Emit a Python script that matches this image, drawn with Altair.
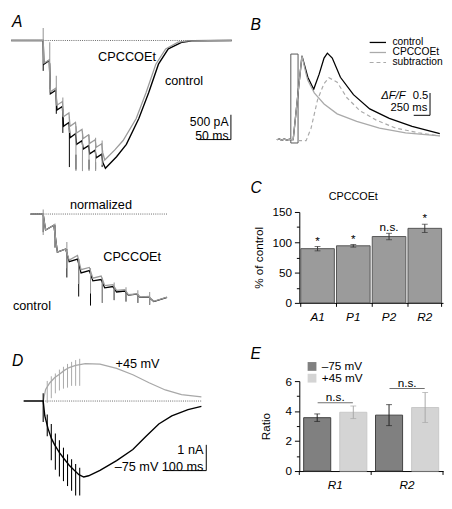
import altair as alt
import pandas as pd

FONT = "Liberation Sans"

# ---------------- data ----------------
PULSE_T = [0, 10, 20, 30, 40, 50, 60, 70, 80, 90]  # ms, 100 Hz train

# Panel A: EPSC (pA) vs time (ms), control and CPCCOEt
A_ctl_t = [-49, 0, 1, 9.3, 11, 19.3, 21, 29.3, 31, 39.3, 41, 49.3, 51, 59.3, 61, 69.3,
           71, 79.3, 81, 89.3, 91, 95, 112, 127, 146, 161, 176, 191, 212, 227, 288]
A_ctl_pA = [0, 0, -477, -400, -1073, -1000, -1400, -1330, -1727, -1650, -1958, -1880,
            -2092, -2020, -2188, -2120, -2285, -2210, -2362, -2290, -2458, -2573,
            -2342, -2092, -1573, -1054, -477, -169, -35, -6, 0]
A_cpc_t = [-49, 0, 1, 9.3, 11, 19.3, 21, 29.3, 31, 39.3, 41, 49.3, 51, 59.3, 61, 69.3,
           71, 79.3, 81, 89.3, 91, 94, 109, 122, 142, 157, 172, 187, 206, 221, 288]
A_cpc_pA = [0, 0, -458, -390, -1035, -960, -1304, -1230, -1535, -1460, -1727, -1650,
            -1862, -1790, -1977, -1900, -2073, -2000, -2150, -2080, -2265, -2408,
            -2208, -2015, -1573, -1054, -477, -169, -35, -6, 0]
A_ctl_art_top = [0, -458, -1092, -1381, -1765, -2300, -2350, -2400, -2450, -2500]
A_ctl_art_bot = [-612, -977, -1477, -1862, -2550, -2600, -2600, -2600, -2600, -2550]
A_cpc_art_top = [254, -35, -708, -1150, -1535, -1727, -1823, -1900, -1958, -2015]
A_cpc_art_bot = [-458, -1035, -1304, -1535, -1862, -2631, -2631, -2631, -2631, -2496]
A_bar_pA = 500
A_bar_ms = 50

# Panel A (normalized)
N_t = [-10.7, 0, 2, 9, 12, 19, 22, 29, 32, 39, 42, 49, 52, 59, 62, 69, 72, 79, 82, 89, 93.5, 104.7]
N_ctl = [0, 0, -0.176, -0.123, -0.421, -0.386, -0.526, -0.498, -0.649, -0.624, -0.737, -0.723,
         -0.814, -0.800, -0.860, -0.849, -0.895, -0.884, -0.919, -0.913, -0.965, -0.919]
N_cpc = [0, 0, -0.176, -0.123, -0.421, -0.386, -0.509, -0.456, -0.614, -0.589, -0.708, -0.684,
         -0.789, -0.779, -0.842, -0.835, -0.890, -0.880, -0.917, -0.910, -0.963, -0.917]
N_ctl_art_top = [0, -0.123, -0.386, -0.498, -0.624, -0.723, -0.800, -0.849, -0.884, -0.913]
N_ctl_art_bot = [-0.20, -0.37, -0.70, -0.91, -1.01, -0.98, -0.95, -0.965, -0.98, -1.0]
N_cpc_art_top = [0.05, -0.105, -0.308, -0.492, -0.597, -0.702, -0.755, -0.807, -0.842, -0.860]
N_cpc_art_bot = [-0.23, -0.368, -0.597, -0.772, -0.877, -0.982, -0.947, -0.965, -0.982, -1.0]

# Panel D: currents (nA) at -75 and +45 mV
D_ctl_t = [-48.2, 0, 4, 12, 20, 28, 40, 52, 64, 76, 88, 100, 112, 140, 181, 221, 253, 285, 317, 357, 390]
D_ctl_nA = [0, 0, -0.58, -1.07, -1.44, -1.69, -2.0, -2.25, -2.49, -2.68, -2.86, -2.95, -2.90,
            -2.69, -2.31, -1.88, -1.38, -0.89, -0.58, -0.33, -0.21]
D_pos_t = [0, 6, 16, 28, 40, 52, 64, 80, 104, 140, 181, 221, 261, 301, 341, 390]
D_pos_nA = [0, 0.45, 0.70, 0.90, 1.04, 1.19, 1.30, 1.38, 1.45, 1.43, 1.27, 1.02, 0.71, 0.43, 0.25, 0.16]
D_neg_art_top = [0.30, -0.52, -0.89, -1.26, -1.52, -1.81, -2.07, -2.26, -2.44, -2.59]
D_neg_art_bot = [-0.81, -1.37, -2.30, -2.67, -2.93, -3.11, -3.30, -3.48, -3.67, -3.67]
D_pos_art_t = [10, 20, 30, 40, 50, 60, 70, 80, 90]
D_pos_art_top = [0.78, 0.96, 1.07, 1.22, 1.33, 1.44, 1.52, 1.59, 1.64]
D_pos_art_bot = [-0.07, 0.11, 0.30, 0.41, 0.48, 0.52, 0.59, 0.59, 0.59]
D_bar_nA = 1
D_bar_ms = 100

# Panel B: Ca2+ signals (dF/F) vs time (ms)
B_ctl_t = [-215, -175, -140, -100, -60, -20, 0, 36, 104, 171, 186, 261, 351, 435, 510, 561,
           636, 761, 961, 1211, 1511, 1861, 2286]
B_ctl = [0, 0.02, -0.01, 0.015, -0.01, 0.01, 0, 0, 0.95, 1.88, 1.80, 1.40, 1.13, 1.47, 1.83,
         1.94, 1.83, 1.40, 1.01, 0.69, 0.48, 0.30, 0.135]
B_cpc_t = [-215, -175, -140, -100, -60, -20, 0, 36, 104, 171, 235, 261, 360, 510, 711, 1011,
           1360, 1761, 2286]
B_cpc = [0, 0.02, -0.01, 0.015, -0.01, 0.01, 0, 0, 0.95, 1.88, 1.47, 1.33, 1.05, 0.80, 0.58,
         0.41, 0.26, 0.156, 0.085]
B_sub_t = [111, 235, 311, 411, 510, 585, 711, 861, 1061, 1311, 1611, 1961, 2286]
B_sub = [-0.02, -0.02, 0.26, 0.90, 1.26, 1.39, 1.29, 0.94, 0.65, 0.44, 0.26, 0.156, 0.085]
B_stim_ms = [0, 111]
B_stim_range = [-0.073, 1.92]
B_series = ["control", "CPCCOEt", "subtraction"]
B_bar_dff = 0.5
B_bar_ms = 250

# Panel C: % of control
C_cond = ["A1", "P1", "P2", "R2"]
C_pct = [89.5, 94.2, 109.5, 123.0]
C_sem = [3.6, 2.2, 5.3, 6.8]
C_sig = ["*", "*", "n.s.", "*"]

# Panel E: ratio
E_groups = ["R1", "R2"]
E_volts = ["\u201375 mV", "+45 mV"]
E_m75 = [3.56, 3.73]
E_m75_err = [0.25, 0.70]
E_p45 = [3.92, 4.24]
E_p45_err = [0.42, 1.00]
E_ns_level = [4.55, 5.50]

# ---------------- helpers ----------------
def S(dom):
    return alt.Scale(domain=dom, nice=False, zero=False)


def trace(t, v, xd, yd, color, width=1.2, dash=None):
    df = pd.DataFrame({"t": t, "v": v})
    kw = {"color": color, "strokeWidth": width}
    if dash is not None:
        kw["strokeDash"] = dash
    return alt.Chart(df).mark_line(**kw).encode(
        x=alt.X("t:Q", scale=S(xd), axis=None),
        y=alt.Y("v:Q", scale=S(yd), axis=None),
    )


def spikes(t, top, bot, xd, yd, color, width=1.0):
    df = pd.DataFrame({"t": t, "top": top, "bot": bot})
    return alt.Chart(df).mark_rule(color=color, strokeWidth=width).encode(
        x=alt.X("t:Q", scale=S(xd), axis=None),
        y=alt.Y("top:Q", scale=S(yd), axis=None),
        y2="bot:Q",
    )


def hseg(x1, x2, y, xd, yd, color="black", width=1.0, dash=None):
    df = pd.DataFrame({"x1": [x1], "x2": [x2], "y": [y]})
    kw = {"color": color, "strokeWidth": width}
    if dash is not None:
        kw["strokeDash"] = dash
    return alt.Chart(df).mark_rule(**kw).encode(
        x=alt.X("x1:Q", scale=S(xd), axis=None), x2="x2:Q",
        y=alt.Y("y:Q", scale=S(yd), axis=None),
    )


def vseg(x, y1, y2, xd, yd, color="black", width=1.0):
    df = pd.DataFrame({"x": [x], "y1": [y1], "y2": [y2]})
    return alt.Chart(df).mark_rule(color=color, strokeWidth=width).encode(
        x=alt.X("x:Q", scale=S(xd), axis=None),
        y=alt.Y("y1:Q", scale=S(yd), axis=None), y2="y2:Q",
    )


def label(x, y, s, xd, yd, size=13, align="center", style="normal", baseline="middle"):
    df = pd.DataFrame({"x": [x], "y": [y], "s": [s]})
    return alt.Chart(df).mark_text(
        align=align, baseline=baseline, fontSize=size, fontStyle=style,
        font=FONT, color="black",
    ).encode(
        x=alt.X("x:Q", scale=S(xd), axis=None),
        y=alt.Y("y:Q", scale=S(yd), axis=None),
        text="s:N",
    )


GREY = "#9a9a9a"
DOT = [1, 1.2]

# ---------------- Panel A ----------------
Ax, Ay = [-49.25, 288.06], [-2765.4, 523.1]
pA = alt.layer(
    hseg(-49, 279, 0, Ax, Ay, color="#666", dash=DOT),
    trace(A_ctl_t, A_ctl_pA, Ax, Ay, "black", 1.4),
    spikes(PULSE_T, A_ctl_art_top, A_ctl_art_bot, Ax, Ay, "black", 1.0),
    trace(A_cpc_t, A_cpc_pA, Ax, Ay, GREY, 1.3),
    spikes(PULSE_T, A_cpc_art_top, A_cpc_art_bot, Ax, Ay, GREY, 1.1),
    label(-47.8, 369, "A", Ax, Ay, size=16, align="left", style="italic"),
    label(128, -325, "CPCCOEt", Ax, Ay),
    label(215, -817, "control", Ax, Ay),
    vseg(286.6, -1496, -1496 - A_bar_pA, Ax, Ay),
    hseg(286.6 - A_bar_ms, 286.6, -1496 - A_bar_pA, Ax, Ay),
    label(283, -1650, f"{A_bar_pA} pA", Ax, Ay, size=12.5, align="right"),
    label(283, -1925, f"{A_bar_ms} ms", Ax, Ay, size=12.5, align="right"),
).properties(width=226, height=167)

# ---------------- Panel A normalized ----------------
Nx, Ny = [-27.27, 159.5], [-1.347, 0.4]
pN = alt.layer(
    hseg(-10.7, 105, 0, Nx, Ny, color="#666", dash=DOT),
    trace(N_t, N_ctl, Nx, Ny, "black", 1.3),
    spikes(PULSE_T, N_ctl_art_top, N_ctl_art_bot, Nx, Ny, "black", 1.0),
    trace(N_t, N_cpc, Nx, Ny, GREY, 1.3),
    spikes(PULSE_T, N_cpc_art_top, N_cpc_art_bot, Nx, Ny, GREY, 1.1),
    label(48.8, 0.095, "normalized", Nx, Ny),
    label(75.2, -0.474, "CPCCOEt", Nx, Ny),
    label(-25.6, -1.02, "control", Nx, Ny, align="left"),
).properties(width=226, height=162)

# ---------------- Panel D ----------------
Dx, Dy = [-79.5, 465.1], [-3.704, 2.519]
pD = alt.layer(
    hseg(0, 390, 0, Dx, Dy, color="#666", dash=DOT),
    trace(D_pos_t, D_pos_nA, Dx, Dy, "#a8a8a8", 1.3),
    spikes(D_pos_art_t, D_pos_art_top, D_pos_art_bot, Dx, Dy, "#a8a8a8", 1.0),
    trace(D_ctl_t, D_ctl_nA, Dx, Dy, "black", 1.4),
    spikes(PULSE_T, D_neg_art_top, D_neg_art_bot, Dx, Dy, "black", 1.1),
    label(-77.1, 1.556, "D", Dx, Dy, size=16, align="left", style="italic"),
    label(232.5, 1.44, "+45 mV", Dx, Dy),
    label(284, -2.574, "\u201375 mV", Dx, Dy, align="right"),
    vseg(402, -1.70, -1.70 - D_bar_nA, Dx, Dy),
    hseg(402 - D_bar_ms, 402, -1.70 - D_bar_nA, Dx, Dy),
    label(395, -1.907, f"{D_bar_nA} nA", Dx, Dy, align="right"),
    label(395, -2.574, f"{D_bar_ms} ms", Dx, Dy, align="right"),
).properties(width=226, height=164)

# ---------------- Panel B ----------------
Bx, By = [130.5, 2335.5], [-0.699, 2.806]
stim = pd.DataFrame({"t1": [B_stim_ms[0]], "t2": [B_stim_ms[1]],
                     "v1": [B_stim_range[0]], "v2": [B_stim_range[1]]})
stim_box = alt.Chart(stim).mark_rect(fillOpacity=0, stroke="#555", strokeWidth=1).encode(
    x=alt.X("t1:Q", scale=S(Bx), axis=None), x2="t2:Q",
    y=alt.Y("v1:Q", scale=S(By), axis=None), y2="v2:Q",
)
leg_v = [2.18, 1.955, 1.73]
pB = alt.layer(
    stim_box,
    trace(B_ctl_t, B_ctl, Bx, By, "black", 1.3),
    trace(B_cpc_t, B_cpc, Bx, By, "#aaaaaa", 1.3),
    trace(B_sub_t, B_sub, Bx, By, "#aaaaaa", 1.2, dash=[4, 3]),
    label(-619.5, 2.57, "B", Bx, By, size=16, align="left", style="italic"),
    hseg(1210, 1461, leg_v[0], Bx, By, "black", 1.3),
    hseg(1210, 1461, leg_v[1], Bx, By, "#aaaaaa", 1.3),
    hseg(1210, 1461, leg_v[2], Bx, By, "#aaaaaa", 1.2, dash=[4, 3]),
    label(1560, leg_v[0], B_series[0], Bx, By, size=10.5, align="left"),
    label(1560, leg_v[1], B_series[1], Bx, By, size=10.5, align="left"),
    label(1560, leg_v[2], B_series[2], Bx, By, size=10.5, align="left"),
    vseg(2136, 0.547, 0.547 + B_bar_dff, Bx, By),
    hseg(2136 - B_bar_ms, 2136, 0.547, Bx, By),
    label(1760, 0.975, "\u0394F/F", Bx, By, size=11.5, align="right", style="italic"),
    label(2110, 0.975, f"{B_bar_dff}", Bx, By, size=11.5, align="right"),
    label(2095, 0.70, f"{B_bar_ms} ms", Bx, By, size=11.5, align="right"),
).properties(width=147, height=160)

# ---------------- Panel C ----------------
dfC = pd.DataFrame({"cond": C_cond, "pct": C_pct, "sem": C_sem, "sig": C_sig})
dfC["lo"] = dfC["pct"] - dfC["sem"]
dfC["hi"] = dfC["pct"] + dfC["sem"]
yCs = alt.Scale(domain=[0, 150], nice=False)
yCa = alt.Axis(values=[0, 25, 50, 75, 100, 125, 150],
               labelExpr="datum.value % 50 === 0 ? datum.label : ''",
               tickSize={"condition": {"test": "datum.value % 50 === 0", "value": 5}, "value": 3},
               title="% of control", titlePadding=7, labelPadding=3, labelOverlap=False)
xCa = alt.Axis(title=None, labelAngle=0, ticks=False, tickSize=0, labelPadding=9,
               labelFontStyle="italic", labelFontSize=12)
xCs = alt.Scale(paddingInner=0.06, paddingOuter=0.04)


def xC(**kw):
    return alt.X("cond:N", sort=C_cond, scale=xCs, axis=xCa, **kw)


def yC(f):
    return alt.Y(f, scale=yCs, axis=yCa)


C_bars = alt.Chart(dfC).mark_bar(color="#9b9b9b", stroke="#555", strokeWidth=1).encode(x=xC(), y=yC("pct:Q"))
C_err = alt.Chart(dfC).mark_rule(color="#333").encode(x=xC(), y=yC("lo:Q"), y2="hi:Q")
C_caph = alt.Chart(dfC).mark_tick(size=6, thickness=1, color="#333").encode(x=xC(), y=yC("hi:Q"))
C_capl = alt.Chart(dfC).mark_tick(size=6, thickness=1, color="#333").encode(x=xC(), y=yC("lo:Q"))
C_sigt = alt.Chart(dfC).mark_text(baseline="alphabetic", dy=-2, fontSize=12, font=FONT).encode(
    x=xC(), y=yC("hi:Q"), text="sig:N")
C_bt = pd.DataFrame({"cond": C_cond, "y0": [0] * 4, "y1": [-6.5] * 4})
C_ticks0 = alt.Chart(C_bt).mark_rule(color="black").encode(x=xC(bandPosition=0), y=yC("y0:Q"), y2="y1:Q")
C_ticks1 = alt.Chart(C_bt.tail(1)).mark_rule(color="black").encode(x=xC(bandPosition=1), y=yC("y0:Q"), y2="y1:Q")
C_title = alt.Chart(pd.DataFrame({"cond": ["P1"], "y": [175], "s": ["CPCCOEt"]})).mark_text(
    fontSize=11, font=FONT).encode(x=xC(), y=yC("y:Q"), text="s:N")
C_letter = alt.Chart(pd.DataFrame({"y": [190], "s": ["C"]})).mark_text(
    align="left", fontSize=16, fontStyle="italic", font=FONT).encode(
    x=alt.value(-50), y=yC("y:Q"), text="s:N")
pC = alt.layer(C_bars, C_err, C_caph, C_capl, C_sigt, C_ticks0, C_ticks1, C_title, C_letter).properties(
    width=147, height=93)

# ---------------- Panel E ----------------
rows = []
for i, g in enumerate(E_groups):
    rows.append({"grp": g, "volt": E_volts[0], "val": E_m75[i], "err": E_m75_err[i]})
    rows.append({"grp": g, "volt": E_volts[1], "val": E_p45[i], "err": E_p45_err[i]})
dfE = pd.DataFrame(rows)
dfE["lo"] = dfE["val"] - dfE["err"]
dfE["hi"] = dfE["val"] + dfE["err"]
yEs = alt.Scale(domain=[0, 6], nice=False)
yEa = alt.Axis(values=[0, 1, 2, 3, 4, 5, 6],
               labelExpr="datum.value % 2 === 0 ? datum.label : ''",
               tickSize={"condition": {"test": "datum.value % 2 === 0", "value": 5}, "value": 3},
               title="Ratio", titlePadding=13, labelPadding=3, labelOverlap=False)
xEa = alt.Axis(title=None, labelAngle=0, ticks=False, tickSize=0, labelPadding=9,
               labelFontStyle="italic", labelFontSize=12)
xEs = alt.Scale(paddingInner=0, paddingOuter=0)
xoE = alt.XOffset("volt:N", sort=E_volts, scale=alt.Scale(paddingInner=0.25, paddingOuter=0.12))


def xE(**kw):
    return alt.X("grp:N", sort=E_groups, scale=xEs, axis=xEa, **kw)


def yE(f):
    return alt.Y(f, scale=yEs, axis=yEa)


E_bars = alt.Chart(dfE).mark_bar(strokeWidth=1).encode(
    x=xE(), xOffset=xoE, y=yE("val:Q"),
    fill=alt.Fill("volt:N", sort=E_volts, scale=alt.Scale(domain=E_volts, range=["#808080", "#d4d4d4"]),
                  legend=alt.Legend(orient="none", legendX=7, legendY=-21, title=None,
                                    symbolType="square", symbolSize=81, symbolStrokeWidth=0,
                                    labelFontSize=12, labelOffset=4, rowPadding=0, padding=0,
                                    labelFont=FONT)),
    stroke=alt.Stroke("volt:N", sort=E_volts, scale=alt.Scale(domain=E_volts, range=["#404040", "#c8c8c8"]),
                      legend=None),
)
E_col = alt.Color("volt:N", sort=E_volts, scale=alt.Scale(domain=E_volts, range=["#222222", "#a8a8a8"]),
                  legend=None)
E_err = alt.Chart(dfE).mark_rule(strokeWidth=1).encode(x=xE(), xOffset=xoE, y=yE("lo:Q"), y2="hi:Q", color=E_col)
E_caph = alt.Chart(dfE).mark_tick(size=6, thickness=1).encode(x=xE(), xOffset=xoE, y=yE("hi:Q"), color=E_col)
E_capl = alt.Chart(dfE).mark_tick(size=6, thickness=1).encode(x=xE(), xOffset=xoE, y=yE("lo:Q"), color=E_col)
dfNS = pd.DataFrame({"grp": E_groups, "y": E_ns_level, "s": ["n.s.", "n.s."]})
E_ns = alt.Chart(dfNS).mark_tick(size=36, thickness=1, color="#333").encode(x=xE(), y=yE("y:Q"))
E_nst = alt.Chart(dfNS).mark_text(baseline="alphabetic", dy=-2, fontSize=12, font=FONT).encode(
    x=xE(), y=yE("y:Q"), text="s:N")
E_bt = pd.DataFrame({"grp": E_groups, "y0": [0, 0], "y1": [-0.26, -0.26]})
E_ticks0 = alt.Chart(E_bt).mark_rule(color="black").encode(x=xE(bandPosition=0), y=yE("y0:Q"), y2="y1:Q")
E_ticks1 = alt.Chart(E_bt.tail(1)).mark_rule(color="black").encode(x=xE(bandPosition=1), y=yE("y0:Q"), y2="y1:Q")
E_letter = alt.Chart(pd.DataFrame({"y": [7.78], "s": ["E"]})).mark_text(
    align="left", fontSize=16, fontStyle="italic", font=FONT).encode(
    x=alt.value(-50), y=yE("y:Q"), text="s:N")
pE = alt.layer(E_bars, E_err, E_caph, E_capl, E_ns, E_nst, E_ticks0, E_ticks1, E_letter).properties(
    width=147, height=92)

# ---------------- layout ----------------
IND = dict(fill="independent", stroke="independent", color="independent")
left = alt.vconcat(pA, pN, pD, spacing=0)
right = alt.vconcat(alt.vconcat(pB, pC, spacing=9), pE, spacing=24).resolve_scale(**IND)
chart = alt.hconcat(left, right, spacing=16).resolve_scale(**IND).properties(padding=0)
chart = chart.configure_view(strokeWidth=0).configure_axis(
    labelFont=FONT, titleFont=FONT, labelFontSize=12, titleFontSize=12,
    labelColor="black", titleColor="black", domainColor="black", tickColor="black",
    titleFontWeight="normal", grid=False,
).configure_text(font=FONT)

chart.save("out.html", embed_options={"renderer": "svg", "actions": False})
